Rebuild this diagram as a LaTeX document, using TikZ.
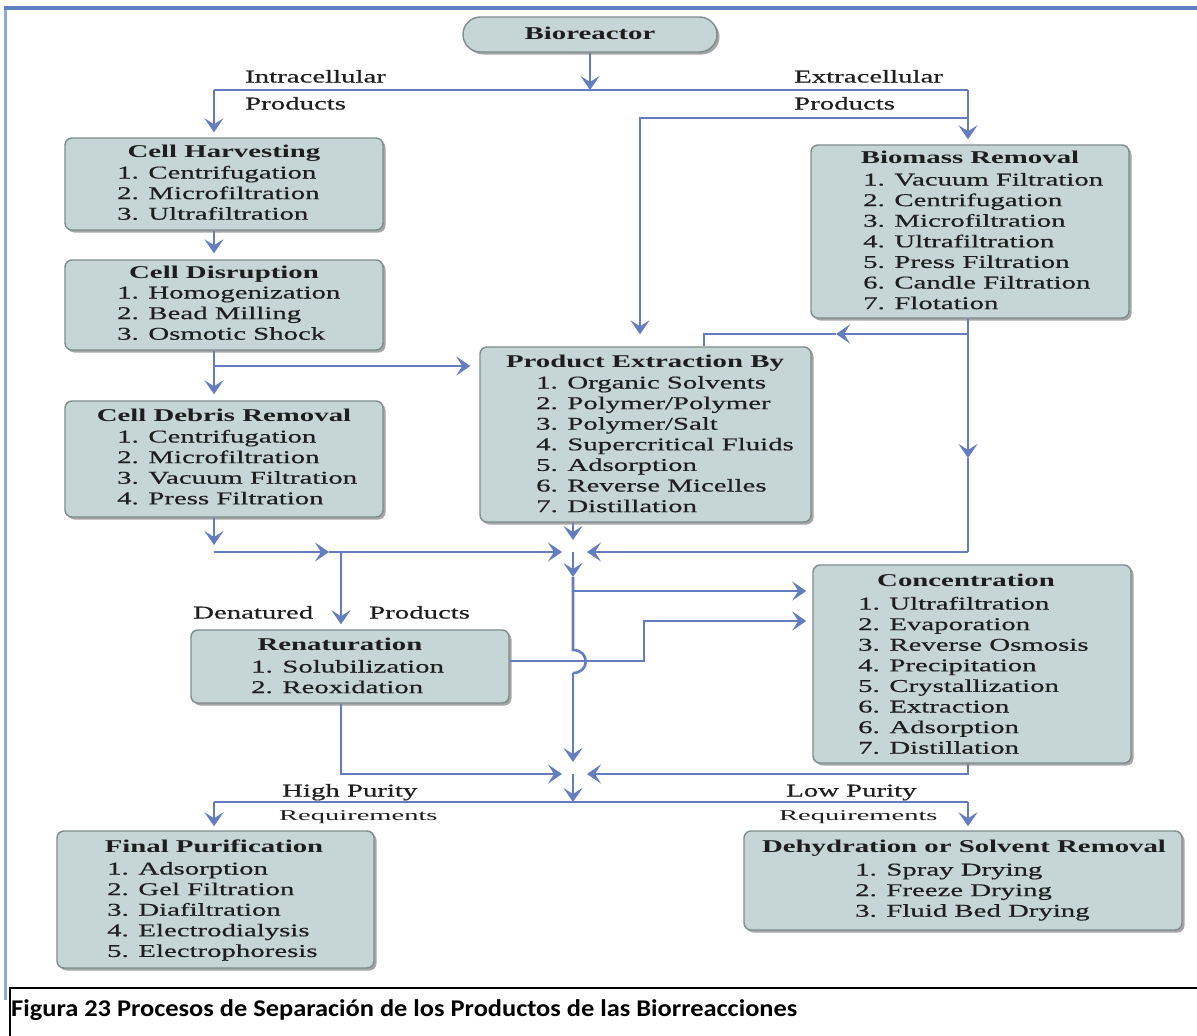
\documentclass[tikz,border=0pt]{standalone}
\usepackage{fontspec}
\setmainfont{Liberation Serif}
\newfontfamily\dfont[FakeStretch=1.6]{Liberation Serif}
\newfontfamily\ifont[FakeStretch=1.6,FakeBold=0.5]{Liberation Serif}
\newfontfamily\reqfont[FakeStretch=1.9]{Liberation Serif}
\newfontfamily\capfont[FakeStretch=1.1]{Carlito}
\usetikzlibrary{arrows.meta,shadows}
\definecolor{lineblue}{HTML}{647DBE}
\definecolor{boxfill}{HTML}{C6D5D6}
\definecolor{boxborder}{HTML}{7D8C8C}
\definecolor{textc}{HTML}{1E1E1E}
\definecolor{framec}{HTML}{5F80C4}
\definecolor{framel}{HTML}{8EAAD8}
\newcommand\itemlist[1]{\begin{tabular}[t]{@{}l@{}}#1\end{tabular}}
\begin{document}
\begin{tikzpicture}[x=1pt,y=-1pt,
  pbox/.style={draw=boxborder, fill=boxfill, line width=1.4pt, rounded corners=7pt, inner sep=0pt,
    drop shadow={shadow xshift=2.5pt, shadow yshift=-2.5pt, opacity=0.35, fill=black}},
  ttl/.style={font=\dfont\bfseries\fontsize{18}{20.6}\selectfont, text=textc, inner sep=0pt, anchor=base},
  lst/.style={font=\ifont\fontsize{18}{20.6}\selectfont, text=textc, inner sep=0pt, anchor=base west},
  lbl/.style={font=\ifont\fontsize{18}{20.6}\selectfont, text=textc, inner sep=0pt, anchor=base west},
  req/.style={font=\reqfont\fontsize{15}{18}\selectfont, text=textc, inner sep=0pt, anchor=base west},
  conn/.style={draw=lineblue, line width=2.6pt},
  arr/.style={conn, -{Stealth[length=14pt,width=19pt,inset=6pt]}}]
\fill[white] (0,0) rectangle (1197,1036);
\useasboundingbox (0,0) rectangle (1197,1036);
% frame
\draw[framel, line width=3pt] (5,1000) -- (5,8);
\draw[framec, line width=4pt] (3.5,8) -- (1197,8);
\draw[black, line width=2pt] (1199,988) -- (10,988) -- (10,1040);
\node[anchor=base west, font=\capfont\bfseries\fontsize{24}{28}\selectfont, inner sep=0pt] (cap) at (11,1016)
  {Figura 23 Procesos de Separación de los Productos de las Biorreacciones};

% boxes
\node[pbox, rounded corners=17.5pt, minimum width=254, minimum height=35] (bio) at (590,34.5) {};
\node[ttl] (bio-t) at (590,39) {Bioreactor};

\node[pbox, minimum width=318, minimum height=92] (harv) at (224,184) {};
\node[ttl] (harv-t) at (224,157.5) {Cell Harvesting};
\node[lst] (harv-l) at (117,178.5) {\itemlist{1. Centrifugation\\2. Microfiltration\\3. Ultrafiltration}};

\node[pbox, minimum width=318, minimum height=90] (disr) at (224,305) {};
\node[ttl] (disr-t) at (224,278.5) {Cell Disruption};
\node[lst] (disr-l) at (117,298.5) {\itemlist{1. Homogenization\\2. Bead Milling\\3. Osmotic Shock}};

\node[pbox, minimum width=318, minimum height=116] (debr) at (224,459) {};
\node[ttl] (debr-t) at (224,421.5) {Cell Debris Removal};
\node[lst] (debr-l) at (117,442.5) {\itemlist{1. Centrifugation\\2. Microfiltration\\3. Vacuum Filtration\\4. Press Filtration}};

\node[pbox, minimum width=331, minimum height=175] (extr) at (645.5,434.5) {};
\node[ttl] (extr-t) at (645,367.5) {Product Extraction By};
\node[lst] (extr-l) at (536,388.5) {\itemlist{1. Organic Solvents\\2. Polymer/Polymer\\3. Polymer/Salt\\4. Supercritical Fluids\\5. Adsorption\\6. Reverse Micelles\\7. Distillation}};

\node[pbox, minimum width=318, minimum height=173] (biom) at (970,231.5) {};
\node[ttl] (biom-t) at (970,163.5) {Biomass Removal};
\node[lst] (biom-l) at (863,185.5) {\itemlist{1. Vacuum Filtration\\2. Centrifugation\\3. Microfiltration\\4. Ultrafiltration\\5. Press Filtration\\6. Candle Filtration\\7. Flotation}};

\node[pbox, minimum width=318, minimum height=73] (rena) at (350,666.5) {};
\node[ttl] (rena-t) at (340,650.5) {Renaturation};
\node[lst] (rena-l) at (251,672.5) {\itemlist{1. Solubilization\\2. Reoxidation}};

\node[pbox, minimum width=318, minimum height=198] (conc) at (972,664) {};
\node[ttl] (conc-t) at (966,586.5) {Concentration};
\node[lst] (conc-l) at (858,609.5) {\itemlist{1. Ultrafiltration\\2. Evaporation\\3. Reverse Osmosis\\4. Precipitation\\5. Crystallization\\6. Extraction\\6. Adsorption\\7. Distillation}};

\node[pbox, minimum width=317, minimum height=137] (final) at (215.5,899.5) {};
\node[ttl] (final-t) at (214,852.5) {Final Purification};
\node[lst] (final-l) at (107,874.5) {\itemlist{1. Adsorption\\2. Gel Filtration\\3. Diafiltration\\4. Electrodialysis\\5. Electrophoresis}};

\node[pbox, minimum width=438, minimum height=99] (dehy) at (963,880.5) {};
\node[ttl] (dehy-t) at (964,852.5) {Dehydration or Solvent Removal};
\node[lst] (dehy-l) at (855,875.5) {\itemlist{1. Spray Drying\\2. Freeze Drying\\3. Fluid Bed Drying}};

% labels
\node[lbl] (l-intra) at (245,82.5) {Intracellular};
\node[lbl] (l-intrap) at (245,109.5) {Products};
\node[lbl] (l-extra) at (794,82.5) {Extracellular};
\node[lbl] (l-extrap) at (794,109.5) {Products};
\node[lbl] (l-den) at (193,618.5) {Denatured};
\node[lbl] (l-denp) at (369,618.5) {Products};
\node[lbl] (l-high) at (282,796.5) {High Purity};
\node[lbl] (l-low) at (786,796.5) {Low Purity};
\node[req] (l-req1) at (279,820) {Requirements};
\node[req] (l-req2) at (779,820) {Requirements};

% coordinates
\coordinate (h1L) at (214,90);
\coordinate (h1R) at (968,90);
\coordinate (h2R) at (968,118);
\coordinate (h2L) at (640,118);
\coordinate (dbr) at (214,366);
\coordinate (c552L) at (214,552);
\coordinate (m1) at (329,552);
\coordinate (dn) at (341,552);
\coordinate (j1) at (573,552);
\coordinate (m2) at (968,458);
\coordinate (bR) at (968,552);
\coordinate (b334R) at (968,334);
\coordinate (m3) at (836,334);
\coordinate (b334L) at (704,334);
\coordinate (m4) at (573,577);
\coordinate (jmpT) at (573,650);
\coordinate (jmpB) at (573,673);
\coordinate (j2) at (573,774);
\coordinate (c1) at (573,591);
\coordinate (k1) at (644,661);
\coordinate (k2) at (644,621);
\coordinate (cR) at (968,774);
\coordinate (rL) at (341,774);
\coordinate (h3M) at (573,802);
\coordinate (h3L) at (214,802);
\coordinate (h3R) at (968,802);

% connectors
\draw[arr] (bio.south) -- (bio.south |- h1L);
\draw[conn] (h1L) -- (h1R);
\draw[arr, shorten >=5pt] (h1L) -- (h1L |- harv.north);
\draw[arr, shorten >=5pt] (h1R) -- (h1R |- biom.north);
\draw[arr, shorten >=12pt] (h2R) -- (h2L) -- (h2L |- extr.north);
\draw[arr, shorten >=6pt] (h1L |- harv.south) -- (h1L |- disr.north);
\draw[arr, shorten >=6pt] (h1L |- disr.south) -- (h1L |- debr.north);
\draw[arr, shorten >=9pt] (dbr) -- (dbr -| extr.west);
\draw[arr, shorten >=7pt] (h1L |- debr.south) -- (c552L);
\draw[arr] (c552L) -- (m1);
\draw[conn] (m1) -- (dn);
\draw[arr, shorten >=11pt] (dn) -- (j1);
\draw[arr, shorten >=5pt] (dn) -- (dn |- rena.north);
\draw[arr, shorten >=12pt] (j1 |- extr.south) -- (j1);
\draw[arr] (h1R |- biom.south) -- (m2);
\draw[conn] (m2) -- (bR);
\draw[arr, shorten >=14pt] (bR) -- (j1);
\draw[arr] (b334R) -- (m3);
\draw[conn] (m3) -- (b334L) -- (b334L |- extr.north);
\draw[arr] (j1) -- (m4);
\draw[conn] (m4) -- (jmpT) .. controls (590,650) and (590,673) .. (jmpB);
\draw[arr, shorten >=12pt] (jmpB) -- (j2);
\draw[arr, shorten >=6pt] (c1) -- (c1 -| conc.west);
\draw[arr, shorten >=6pt] (k1 -| rena.east) -- (k1) -- (k2) -- (k2 -| conc.west);
\draw[arr, shorten >=14pt] (cR |- conc.south) -- (cR) -- (j2);
\draw[arr, shorten >=11pt] (rL |- rena.south) -- (rL) -- (j2);
\draw[arr] (j2) -- (h3M);
\draw[conn] (h3L) -- (h3R);
\draw[arr, shorten >=4pt] (h3L) -- (h3L |- final.north);
\draw[arr, shorten >=4pt] (h3R) -- (h3R |- dehy.north);
\end{tikzpicture}
\end{document}
